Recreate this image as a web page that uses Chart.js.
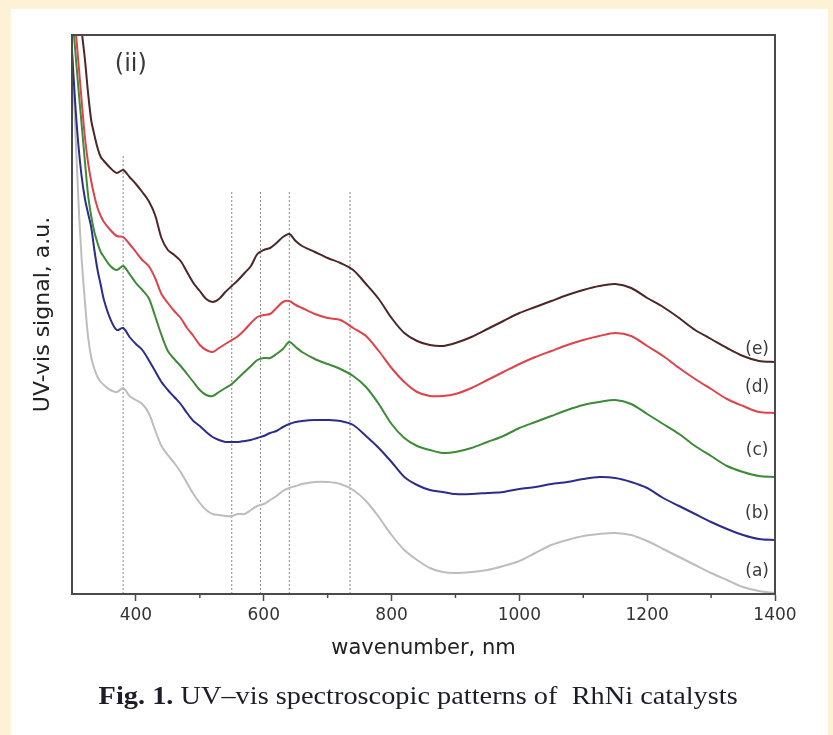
<!DOCTYPE html>
<html>
<head>
<meta charset="utf-8">
<script src="https://cdn.jsdelivr.net/npm/chart.js@4.4.1/dist/chart.umd.min.js"></script>
<style>
  html, body { margin:0; padding:0; }
  body { width:833px; height:735px; background:#FDF2D6; position:relative; overflow:hidden; }
  #panel { position:absolute; left:11px; top:9px; width:817px; height:726px; background:#ffffff; }
  #c { position:absolute; left:0; top:0; }
  #cap { position:absolute; left:2px; top:681px; width:833px; text-align:center; line-height:30px;
         font-family:"Liberation Serif", "DejaVu Serif", serif; font-size:26px; color:#1d1d2a; }
  #cap span { display:inline-block; transform:scaleX(1.09); white-space:pre; }
</style>
</head>
<body>
<div id="panel"></div>
<canvas id="c" width="833" height="735"></canvas>
<div id="cap"><span><b>Fig. 1.</b> UV–vis spectroscopic patterns of  RhNi catalysts</span></div>
<script>
// ---- data (wavelength in nm, UV-vis signal in a.u.) ----
const wavelengths = [300,305,310,315,320,325,330,335,340,345,350,
  360,370,380,390,400,410,420,430,440,450,460,470,480,490,500,510,520,530,540,550,560,570,580,590,600,610,620,630,640,650,660,
  680,700,720,740,760,780,800,820,840,860,880,900,
  925,950,975,1000,1025,1050,1075,1100,1125,1150,1175,1200,1225,1250,1275,1300,1325,1350,1375,1400];

const seriesE = [3.2,3.05,2.92,2.815,2.68,2.51,2.37,2.295,2.23,2.185,2.165,
  2.13,2.105,2.12,2.085,2.05,2.01,1.965,1.895,1.78,1.72,1.695,1.665,1.61,1.555,1.515,1.475,1.46,1.475,1.51,1.54,1.57,1.605,1.64,1.70,1.72,1.73,1.755,1.785,1.80,1.765,1.74,
  1.71,1.68,1.655,1.62,1.55,1.475,1.38,1.305,1.265,1.245,1.24,1.255,
  1.285,1.325,1.365,1.405,1.435,1.465,1.495,1.52,1.54,1.55,1.53,1.48,1.435,1.38,1.32,1.275,1.23,1.19,1.165,1.16];

const seriesD = [3.02,2.845,2.66,2.47,2.29,2.16,2.065,1.99,1.93,1.89,1.86,
  1.82,1.79,1.785,1.75,1.71,1.67,1.64,1.58,1.50,1.455,1.415,1.38,1.33,1.29,1.245,1.22,1.21,1.23,1.25,1.27,1.29,1.32,1.355,1.385,1.395,1.40,1.43,1.46,1.465,1.445,1.43,
  1.40,1.38,1.37,1.33,1.29,1.215,1.13,1.06,1.01,0.99,0.99,1.0,
  1.03,1.07,1.11,1.15,1.185,1.215,1.245,1.27,1.29,1.305,1.29,1.24,1.19,1.13,1.075,1.025,0.975,0.94,0.91,0.905];

const seriesC = [2.92,2.72,2.53,2.35,2.17,2.00,1.89,1.81,1.755,1.71,1.685,
  1.64,1.62,1.64,1.60,1.555,1.52,1.48,1.39,1.295,1.215,1.175,1.14,1.10,1.06,1.02,0.995,0.99,1.01,1.03,1.05,1.08,1.11,1.14,1.17,1.18,1.18,1.20,1.225,1.26,1.235,1.21,
  1.175,1.15,1.125,1.09,1.035,0.95,0.85,0.78,0.74,0.72,0.705,0.71,
  0.73,0.76,0.79,0.83,0.86,0.89,0.92,0.945,0.96,0.97,0.95,0.90,0.85,0.80,0.74,0.69,0.64,0.61,0.59,0.585];

const seriesB = [2.72,2.455,2.245,2.09,1.98,1.905,1.835,1.72,1.62,1.545,1.47,
  1.375,1.32,1.33,1.285,1.25,1.22,1.17,1.115,1.06,1.02,0.985,0.95,0.905,0.865,0.84,0.81,0.785,0.77,0.76,0.76,0.76,0.765,0.77,0.78,0.79,0.805,0.815,0.835,0.85,0.86,0.865,
  0.87,0.87,0.865,0.845,0.79,0.73,0.66,0.585,0.545,0.52,0.51,0.50,
  0.50,0.505,0.51,0.525,0.535,0.55,0.56,0.575,0.585,0.58,0.56,0.53,0.48,0.44,0.40,0.36,0.325,0.295,0.275,0.27];

const seriesA = [2.695,2.345,1.97,1.68,1.47,1.29,1.185,1.125,1.085,1.06,1.045,
  1.02,1.01,1.03,0.99,0.97,0.95,0.905,0.82,0.74,0.695,0.655,0.61,0.555,0.50,0.455,0.42,0.40,0.395,0.39,0.39,0.40,0.40,0.42,0.44,0.45,0.47,0.49,0.515,0.53,0.54,0.55,
  0.56,0.56,0.55,0.52,0.465,0.385,0.295,0.22,0.17,0.13,0.11,0.105,
  0.11,0.12,0.14,0.165,0.205,0.245,0.27,0.29,0.30,0.305,0.295,0.265,0.225,0.185,0.145,0.105,0.07,0.035,0.015,0.005];

const curveTags = ['(e)','(d)','(c)','(b)','(a)'];
const tagLevels = [1.22, 1.03, 0.715, 0.40, 0.11];
const tagWavelength = 1372;
const markerWavelengths = [380, 550, 595, 640, 735];
const markerTops = [2.2, 2.015, 2.015, 2.015, 2.015];
const majorTicks = [400, 600, 800, 1000, 1200, 1400];
const minorTicks = [500, 700, 900, 1100, 1300];
const panelTag = '(ii)';
const panelTagPos = [392, 2.645];
const xTitle = 'wavenumber, nm';
const yTitle = 'UV-vis signal, a.u.';

// ---- styles ----
const curveColors = ['#4e2626', '#e0424a', '#3d8a37', '#2c2c8c', '#bdbdbd'];
const allSeries = [seriesE, seriesD, seriesC, seriesB, seriesA];

const datasets = allSeries.map((s, i) => ({
  label: curveTags[i],
  data: wavelengths.map((w, k) => ({x: w, y: s[k]})),
  borderColor: curveColors[i],
  borderWidth: 2,
  pointRadius: 0,
  tension: 0.3,
  fill: false
}));
markerWavelengths.forEach((w, i) => {
  datasets.push({
    label: 'marker' + w,
    data: [{x: w, y: 0}, {x: w, y: markerTops[i]}],
    borderColor: '#8c8c8c',
    borderWidth: 1,
    borderDash: [2, 2],
    pointRadius: 0,
    fill: false
  });
});

const annot = {
  id: 'annot',
  afterDatasetsDraw(chart) {
    const {ctx, chartArea: a, scales: {x, y}} = chart;
    ctx.save();
    ctx.strokeStyle = '#4a4a4a';
    ctx.lineWidth = 2;
    ctx.strokeRect(a.left, a.top, a.right - a.left, a.bottom - a.top);
    ctx.lineWidth = 1.5;
    minorTicks.forEach(v => {
      const px = x.getPixelForValue(v);
      ctx.beginPath(); ctx.moveTo(px, a.bottom); ctx.lineTo(px, a.bottom + 4); ctx.stroke();
    });
    ctx.fillStyle = '#3a3a3a';
    ctx.textAlign = 'center';
    ctx.textBaseline = 'middle';
    ctx.font = '17px "DejaVu Sans"';
    curveTags.forEach((t, i) => ctx.fillText(t, x.getPixelForValue(tagWavelength), y.getPixelForValue(tagLevels[i])));
    ctx.font = '24px "DejaVu Sans"';
    ctx.fillText(panelTag, x.getPixelForValue(panelTagPos[0]), y.getPixelForValue(panelTagPos[1]));
    ctx.restore();
  }
};

new Chart(document.getElementById('c'), {
  type: 'line',
  data: { datasets },
  options: {
    responsive: false,
    animation: false,
    devicePixelRatio: 1,
    layout: { padding: { left: 0, top: 35, right: 58, bottom: 74 } },
    plugins: { legend: { display: false }, tooltip: { enabled: false } },
    scales: {
      x: {
        type: 'linear',
        min: 300, max: 1400,
        afterFit: s => { s.height = 67; },
        ticks: {
          stepSize: 100, autoSkip: false, maxRotation: 0, padding: 4,
          color: '#333333',
          font: { family: 'DejaVu Sans', size: 17 },
          callback: v => majorTicks.includes(v) ? String(v) : ''
        },
        grid: {
          display: true, drawOnChartArea: false, drawTicks: true, tickLength: 7,
          tickWidth: 1.5,
          tickColor: c => (c.tick && majorTicks.includes(c.tick.value)) ? '#4a4a4a' : 'rgba(0,0,0,0)'
        },
        border: { display: true, color: '#4a4a4a', width: 2 },
        title: {
          display: true, text: xTitle, color: '#222222',
          font: { family: 'DejaVu Sans', size: 21 },
          padding: { top: 0, bottom: 0 }
        }
      },
      y: {
        min: 0, max: 2.795,
        afterFit: s => { s.width = 72; },
        ticks: { display: false },
        grid: { display: false },
        border: { display: true, color: '#4a4a4a', width: 2 },
        title: {
          display: true, text: yTitle, color: '#222222',
          font: { family: 'DejaVu Sans', size: 22 },
          padding: { top: 30, bottom: 0 }
        }
      }
    }
  },
  plugins: [annot]
});
</script>
</body>
</html>
